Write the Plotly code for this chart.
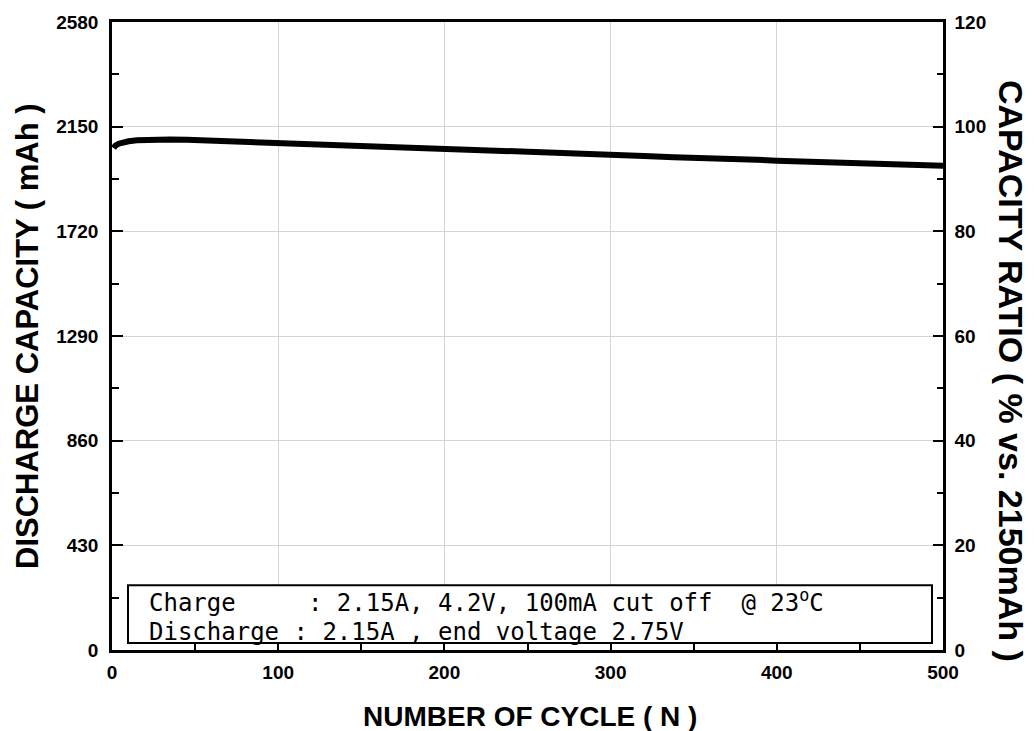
import plotly.graph_objects as go

# ---- data ----
cycles = [1, 2, 4, 7, 10, 15, 20, 28, 35, 45, 58, 72, 80, 90, 100, 115, 128, 140, 155,
          165, 176, 185, 200, 215, 238, 259, 280, 300, 320, 338, 355, 368, 380, 388, 400,
          420, 447, 470, 485, 497, 500]
capacity = [2062, 2072, 2080, 2086, 2090, 2094, 2096, 2098, 2097, 2096, 2093, 2089, 2090,
            2086, 2083, 2081, 2079, 2075, 2071, 2069, 2066, 2066, 2061, 2059, 2055, 2048,
            2042, 2036, 2030, 2024, 2022, 2021, 2017, 2014, 2010, 2007, 2003, 1998, 1995,
            1990, 1989]
nominal = 2150
ratio = [c / nominal * 100 for c in capacity]

x_ticks = [0, 100, 200, 300, 400, 500]
y_ticks = [0, 430, 860, 1290, 1720, 2150, 2580]
y2_ticks = [0, 20, 40, 60, 80, 100, 120]

x_title = "NUMBER OF CYCLE ( N )"
y_title = "DISCHARGE CAPACITY ( mAh )"
y2_title = "CAPACITY RATIO ( % vs. 2150mAh )"
NB = "\u00a0"
note_lines = [
    "Charge" + NB * 5 + ": 2.15A, 4.2V, 100mA cut off" + NB * 2 + "@ 23<sup>o</sup>C",
    "Discharge : 2.15A , end voltage 2.75V",
]

# ---- layout geometry (pixels) ----
W, H = 1036, 731
L, R, T, B = 112, 943, 20, 650


def px(xp, yp):
    return (xp - L) / (R - L), (B - yp) / (B - T)


fig = go.Figure()
fig.add_trace(go.Scatter(x=cycles, y=capacity, mode="lines",
                         line=dict(color="black", width=6), showlegend=False,
                         hoverinfo="skip"))
fig.add_trace(go.Scatter(x=cycles, y=ratio, mode="lines", yaxis="y2",
                         line=dict(color="rgba(0,0,0,0)", width=0), showlegend=False,
                         hoverinfo="skip"))

tickfont = dict(family="Liberation Sans, Arial", size=19, color="black", weight="bold")

fig.update_layout(
    width=W, height=H,
    margin=dict(l=L, r=W - R, t=T, b=H - B),
    paper_bgcolor="white", plot_bgcolor="white",
    xaxis=dict(range=[0, 500], tickvals=x_ticks, ticks="inside", ticklen=8, tickwidth=2,
               tickcolor="black", showline=True, linecolor="black", linewidth=2.5,
               mirror=True, showgrid=True, gridcolor="#d4d4d4", gridwidth=1,
               zeroline=False, tickfont=tickfont, ticklabelstandoff=3,
               minor=dict(dtick=50, ticks="inside", ticklen=7, tickwidth=2,
                          tickcolor="black", showgrid=False)),
    yaxis=dict(range=[0, 2580], tickvals=y_ticks, ticks="inside", ticklen=11, tickwidth=2,
               tickcolor="black", showline=True, linecolor="black", linewidth=2.5,
               showgrid=True, gridcolor="#d4d4d4", gridwidth=1, zeroline=False,
               tickfont=tickfont, ticklabelstandoff=7,
               minor=dict(dtick=215, tick0=0, ticks="inside", ticklen=7, tickwidth=2,
                          tickcolor="black", showgrid=False)),
    yaxis2=dict(range=[0, 120], tickvals=y2_ticks, overlaying="y", side="right",
                ticks="inside", ticklen=10, tickwidth=2, tickcolor="black",
                showline=True, linecolor="black", linewidth=2.5, showgrid=False,
                zeroline=False, tickfont=tickfont, ticklabelstandoff=5,
                minor=dict(dtick=10, ticks="inside", ticklen=6, tickwidth=2,
                           tickcolor="black")),
)


def title_font(size):
    return dict(family="Liberation Sans, Arial", size=size, color="black", weight="bold")


ax, ay = px(530, 717)
fig.add_annotation(x=ax, y=ay, xref="paper", yref="paper", text=x_title, showarrow=False,
                   font=title_font(28), xanchor="center", yanchor="middle")
ax, ay = px(27, 335)
fig.add_annotation(x=ax, y=ay, xref="paper", yref="paper", text=y_title, showarrow=False,
                   font=title_font(31), textangle=-90, xanchor="center", yanchor="middle")
ax, ay = px(1011, 370)
fig.add_annotation(x=ax, y=ay, xref="paper", yref="paper", text=y2_title, showarrow=False,
                   font=title_font(34), textangle=90, xanchor="center", yanchor="middle")

# condition box
bx0, by0 = px(128, 643)
bx1, by1 = px(932, 585)
fig.add_shape(type="rect", xref="paper", yref="paper", x0=bx0, y0=by0, x1=bx1, y1=by1,
              line=dict(color="black", width=2), fillcolor="white", layer="above")

notefont = dict(family="DejaVu Sans Mono", size=24, color="black")
line_y = [601, 632]
for i, text in enumerate(note_lines):
    ax, ay = px(148, line_y[i])
    fig.add_annotation(x=ax, y=ay, xref="paper", yref="paper", text=text, showarrow=False,
                       font=notefont, xanchor="left", yanchor="middle", borderpad=0)

fig.write_html("out.html", config={"displayModeBar": False},
               post_script="document.body.style.margin='0px';"
                           "document.body.style.overflow='hidden';")
